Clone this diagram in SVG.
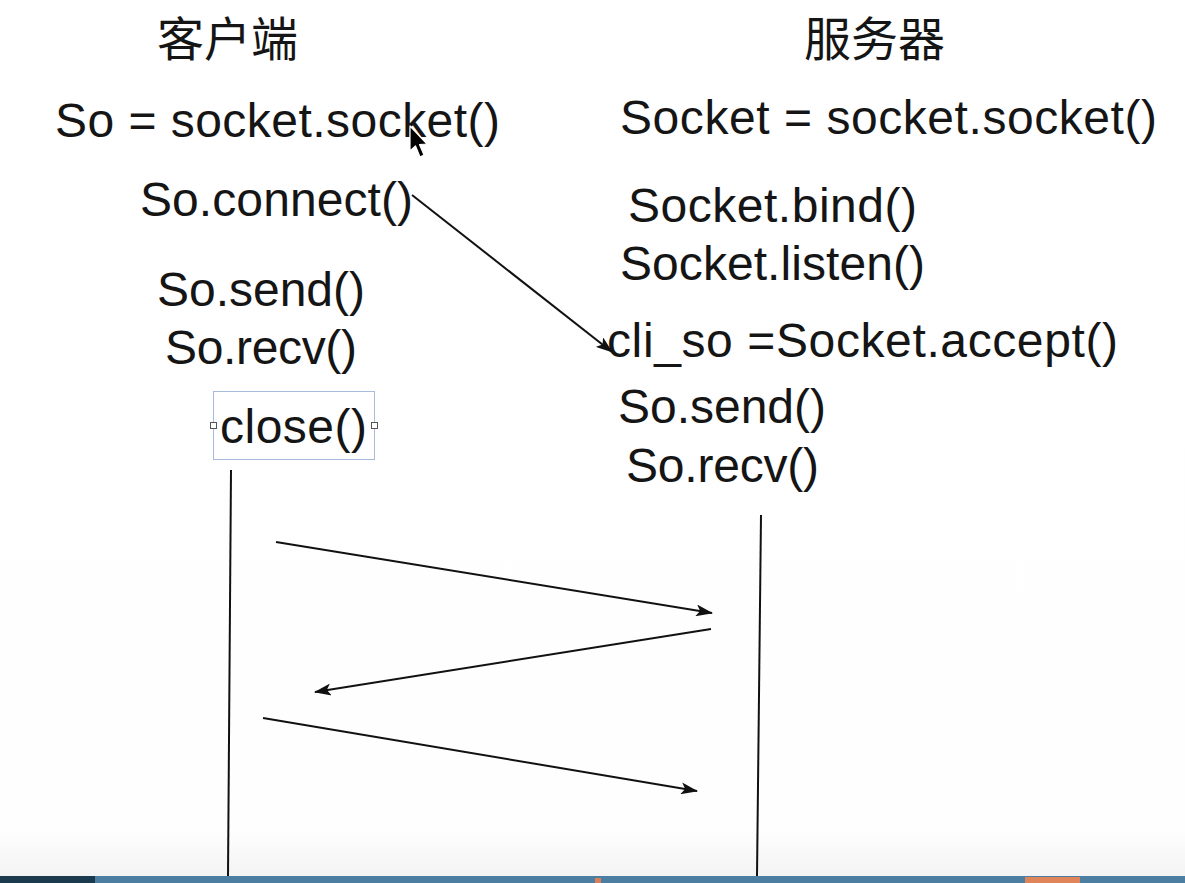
<svg xmlns="http://www.w3.org/2000/svg" width="1185" height="883" viewBox="0 0 1185 883">
<defs>
<style>
.t{font-family:"Liberation Sans",Arial,sans-serif;font-size:48px;fill:#151515;}
.cjk{font-family:"Liberation Sans","Noto Sans CJK SC",sans-serif;font-size:47px;fill:#151515;}
.ln{stroke:#111;stroke-width:2;fill:none;}
</style>
<marker id="ah" viewBox="0 0 17 12" refX="16" refY="6" markerWidth="17" markerHeight="12" markerUnits="userSpaceOnUse" orient="auto">
<path d="M0,0 L17,6 L0,12 L4,6 Z" fill="#111"/>
</marker>
<linearGradient id="bg" x1="0" y1="0" x2="0" y2="1">
<stop offset="0" stop-color="#ffffff"/>
<stop offset="0.94" stop-color="#fefefe"/>
<stop offset="1" stop-color="#f2f2f2"/>
</linearGradient>
</defs>
<rect x="0" y="0" width="1185" height="883" fill="url(#bg)"/>

<g id="client-title"><text class="cjk" x="157" y="56">客户端</text></g>
<g id="server-title"><text class="cjk" x="804" y="56">服务器</text></g>

<g id="client-socket"><text class="t" x="55" y="137" textLength="445">So = socket.socket()</text></g>
<g id="client-connect"><text class="t" x="140" y="216" textLength="273">So.connect()</text></g>
<g id="client-send"><text class="t" x="157" y="306" textLength="208">So.send()</text></g>
<g id="client-recv"><text class="t" x="165" y="364" textLength="192">So.recv()</text></g>
<g id="client-close">
<rect x="213.5" y="391.5" width="161" height="68" fill="none" stroke="#a9bbdc" stroke-width="1"/>
<rect x="210.5" y="422.5" width="6" height="6" fill="#fff" stroke="#555" stroke-width="1"/>
<rect x="371.5" y="422.5" width="6" height="6" fill="#fff" stroke="#555" stroke-width="1"/>
<text class="t" x="220" y="443" textLength="147">close()</text>
</g>

<g id="server-socket"><text class="t" x="620" y="134" textLength="537">Socket = socket.socket()</text></g>
<g id="server-bind"><text class="t" x="628" y="222" textLength="289">Socket.bind()</text></g>
<g id="server-listen"><text class="t" x="620" y="280" textLength="305">Socket.listen()</text></g>
<g id="server-accept"><text class="t" x="607" y="357" textLength="511">cli_so =Socket.accept()</text></g>
<g id="server-send"><text class="t" x="618" y="423" textLength="208">So.send()</text></g>
<g id="server-recv"><text class="t" x="626" y="482" textLength="193">So.recv()</text></g>

<g id="connectors">
<line class="ln" x1="412" y1="195" x2="612" y2="352" marker-end="url(#ah)"/>
<line class="ln" x1="231" y1="470" x2="228" y2="876"/>
<line class="ln" x1="761" y1="515" x2="757" y2="876"/>
<line class="ln" x1="276" y1="542" x2="712" y2="613" marker-end="url(#ah)"/>
<line class="ln" x1="711" y1="629" x2="315" y2="692" marker-end="url(#ah)"/>
<line class="ln" x1="263" y1="718" x2="697" y2="791" marker-end="url(#ah)"/>
</g>

<g id="cursor">
<path d="M410,126 L410,151 L415.5,146 L420,157 L424,155 L419.5,144.5 L427,144 Z" fill="#000" stroke="#fff" stroke-width="1.2" stroke-linejoin="round"/>
</g>

<g id="taskbar">
<rect x="0" y="876" width="1185" height="7" fill="#4c7ea2"/>
<rect x="0" y="876" width="95" height="7" fill="#1c3a4e"/>
<rect x="1025" y="877" width="55" height="6" fill="#e0855a"/>
<rect x="595" y="878" width="6" height="5" fill="#d9805a"/>
</g>
</svg>
